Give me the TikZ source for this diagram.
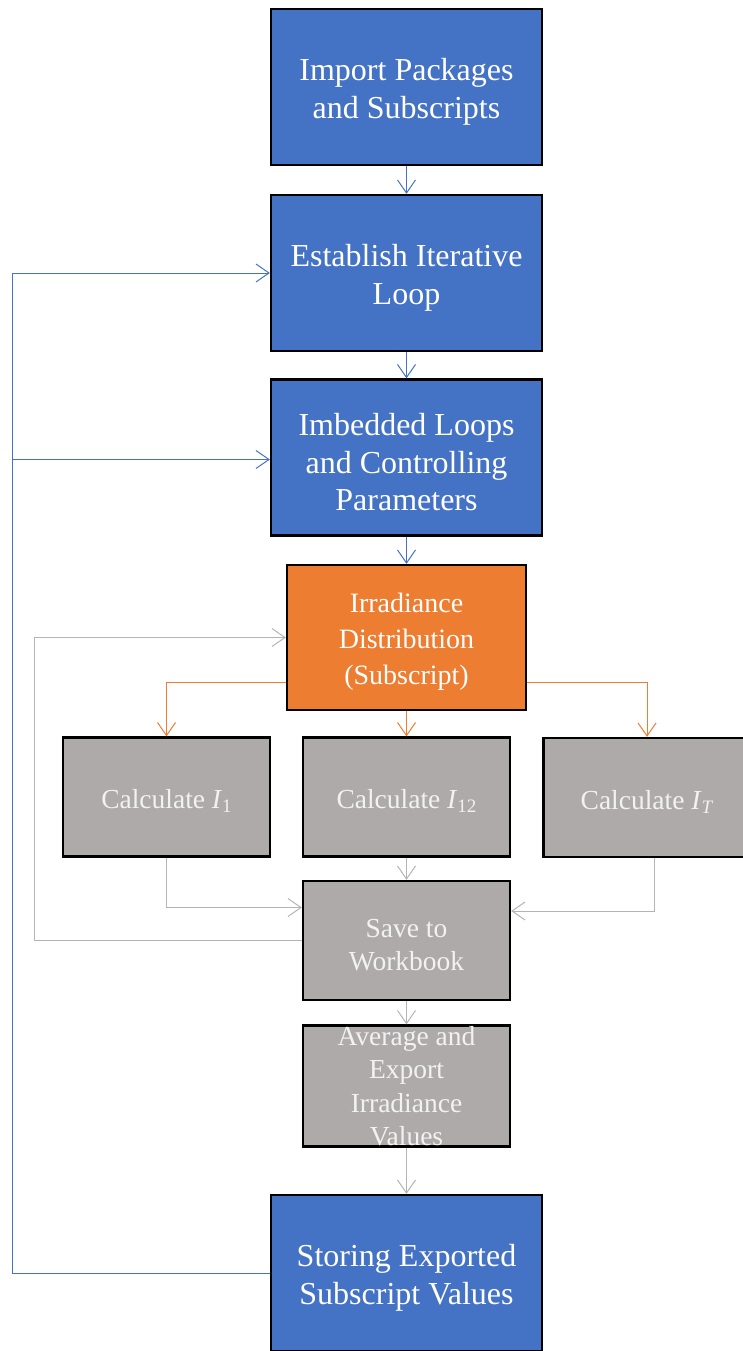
\documentclass[tikz,border=0pt]{standalone}
\usepackage{fontspec}
\setmainfont{Liberation Serif}
\usetikzlibrary{arrows.meta}
\definecolor{boxblue}{HTML}{4472C4}
\definecolor{boxorange}{HTML}{ED7D31}
\definecolor{boxgray}{HTML}{AEAAAA}
\definecolor{linegray}{HTML}{B4B4B4}
\definecolor{graytext}{HTML}{F2F2F2}
\newcommand\mysub[1]{\raisebox{-0.35ex}{\fontsize{19}{19}\selectfont #1}}
\newcommand\tp{\rule{0pt}{1em}}
\tikzset{
  basebox/.style={draw=black, line width=2.3pt, inner sep=0pt, align=center},
  bluebox/.style={basebox, fill=boxblue, text=white, minimum width=271pt, minimum height=156pt,
    font=\fontsize{32}{37.5}\selectfont},
  orangebox/.style={basebox, fill=boxorange, text=white, minimum width=239pt, minimum height=145pt,
    font=\fontsize{28}{36}\selectfont},
  graybox/.style={basebox, fill=boxgray, text=graytext, minimum width=207pt, minimum height=119pt,
    font=\fontsize{27.5}{33.5}\selectfont},
  tip/.style={-{Straight Barb[length=13pt,width=18pt,line width=1pt]}},
  bluearr/.style={tip, draw=boxblue, line width=1pt},
  orarr/.style={tip, draw=boxorange, line width=1pt},
  grarr/.style={tip, draw=linegray, line width=1pt},
}
\begin{document}
\begin{tikzpicture}[x=1pt,y=-1pt]
\useasboundingbox (0,0) rectangle (743,1351);
% nodes
\node[bluebox] (imp) at (406.5,87) {\tp Import Packages\\and Subscripts};
\node[bluebox] (est) at (406.5,273) {\tp Establish Iterative\\Loop};
\node[bluebox] (imb) at (406.5,457.5) {\tp Imbedded Loops\\and Controlling\\Parameters};
\node[orangebox] (irr) at (406.5,637.5) {\tp Irradiance\\Distribution\\(Subscript)};
\node[graybox] (ca) at (166.5,797) {\tp Calculate \textit{I}\mysub{1}};
\node[graybox] (cb) at (406.5,797) {\tp Calculate \textit{I}\mysub{12}};
\node[graybox] (cc) at (647,797.5) {\tp Calculate \textit{I}\mysub{\textit{T}}};
\node[graybox] (sav) at (406.5,940.5) {\tp Save to\\Workbook};
\node[graybox, minimum height=121pt] (avg) at (406.5,1086) {Average and\\Export\\Irradiance\\Values};
\node[bluebox, font=\fontsize{32}{38}\selectfont] (sto) at (406.5,1273) {\tp Storing Exported\\Subscript Values};
% coordinates for loop corners
\coordinate (bc) at (12,1273);
\coordinate (bj) at (12,459.5);
\coordinate (gc) at (34,940.5);
% blue connectors
\draw[bluearr] (imp) -- (est);
\draw[bluearr] (est) -- (imb);
\draw[bluearr] (imb) -- (irr);
\draw[bluearr] (sto.west) -- (bc) |- (est.west);
\draw[bluearr, line width=1.6pt] (bj) -- (imb.west |- bj);
% orange connectors
\draw[orarr] ([yshift=29pt]irr.south west) -| (ca.north);
\draw[orarr] (irr) -- (cb);
\draw[orarr] ([yshift=29pt]irr.south east) -| (cc.north);
% gray connectors
\draw[grarr] (ca.south) |- ([yshift=33pt]sav.west);
\draw[grarr] (cb) -- (sav);
\draw[grarr] ([xshift=7pt]cc.south) |- ([yshift=29.5pt]sav.east);
\draw[grarr] (sav.west) -- (gc) |- (irr.west);
\draw[grarr] (sav) -- (avg);
\draw[grarr] (avg) -- (sto);
\end{tikzpicture}
\end{document}
